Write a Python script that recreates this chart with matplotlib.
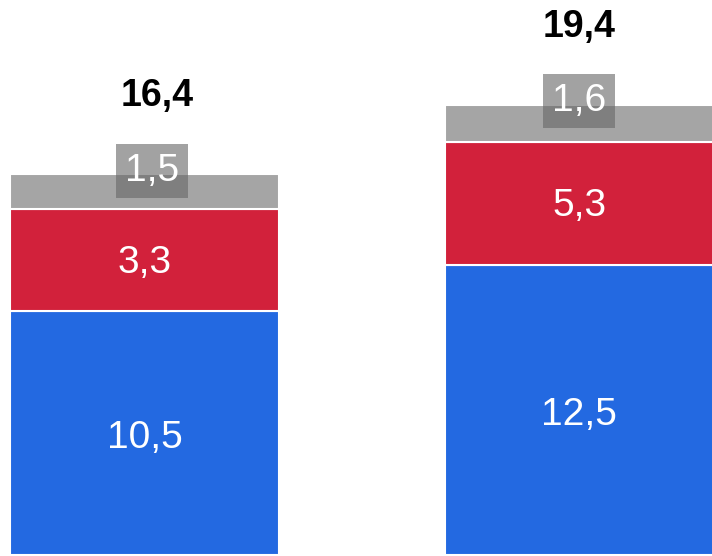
import numpy as np
import matplotlib.pyplot as plt

# data
groups = ['A', 'B']
blue = [10.5, 12.5]
red = [4.4, 5.3]
gray = [1.5, 1.6]
blue_labels = ['10,5', '12,5']
red_labels = ['3,3', '5,3']
gray_labels = ['1,5', '1,6']
totals = ['16,4', '19,4']

c_blue = '#2369e1'
c_red = '#d2213b'
c_gray = '#a5a5a5'
font = 'Liberation Sans'

fig = plt.figure(figsize=(7.12, 5.56), dpi=100)
ax = fig.add_axes([0, 0, 1, 1])

x = np.arange(len(groups))
w = 0.618
blue = np.array(blue)
red = np.array(red)
gray = np.array(gray)

ax.bar(x, blue, w, color=c_blue, edgecolor='white', linewidth=1.5)
ax.bar(x, red, w, bottom=blue, color=c_red, edgecolor='white', linewidth=1.5)
ax.bar(x, gray, w, bottom=blue + red, color=c_gray, edgecolor='white', linewidth=1.5)

# small nudge of the first bar's top labels, as in the original
gray_dx = [0.018, 0.0]
total_dx = [0.03, 0.0]

for i in range(len(groups)):
    ax.text(x[i], blue[i] / 2 - 0.2, blue_labels[i], ha='center', va='center',
            color='white', fontsize=28, family=font)
    ax.text(x[i], blue[i] + red[i] / 2 - 0.12, red_labels[i], ha='center', va='center',
            color='white', fontsize=28, family=font)
    top = blue[i] + red[i] + gray[i]
    ax.text(x[i] + gray_dx[i], top + 0.15, gray_labels[i], ha='center', va='center',
            color='white', fontsize=28, family=font,
            bbox=dict(boxstyle='square,pad=0.23', fc='#686868', ec='none', alpha=0.61))
    ax.text(x[i] + total_dx[i], top + 3.35, totals[i], ha='center', va='center',
            color='black', fontsize=27, fontweight='bold', family=font)

ax.set_xlim(-0.332, 1.305)
ax.set_ylim(-0.04, 23.9)
ax.axis('off')

plt.savefig('out.png', dpi=100)
